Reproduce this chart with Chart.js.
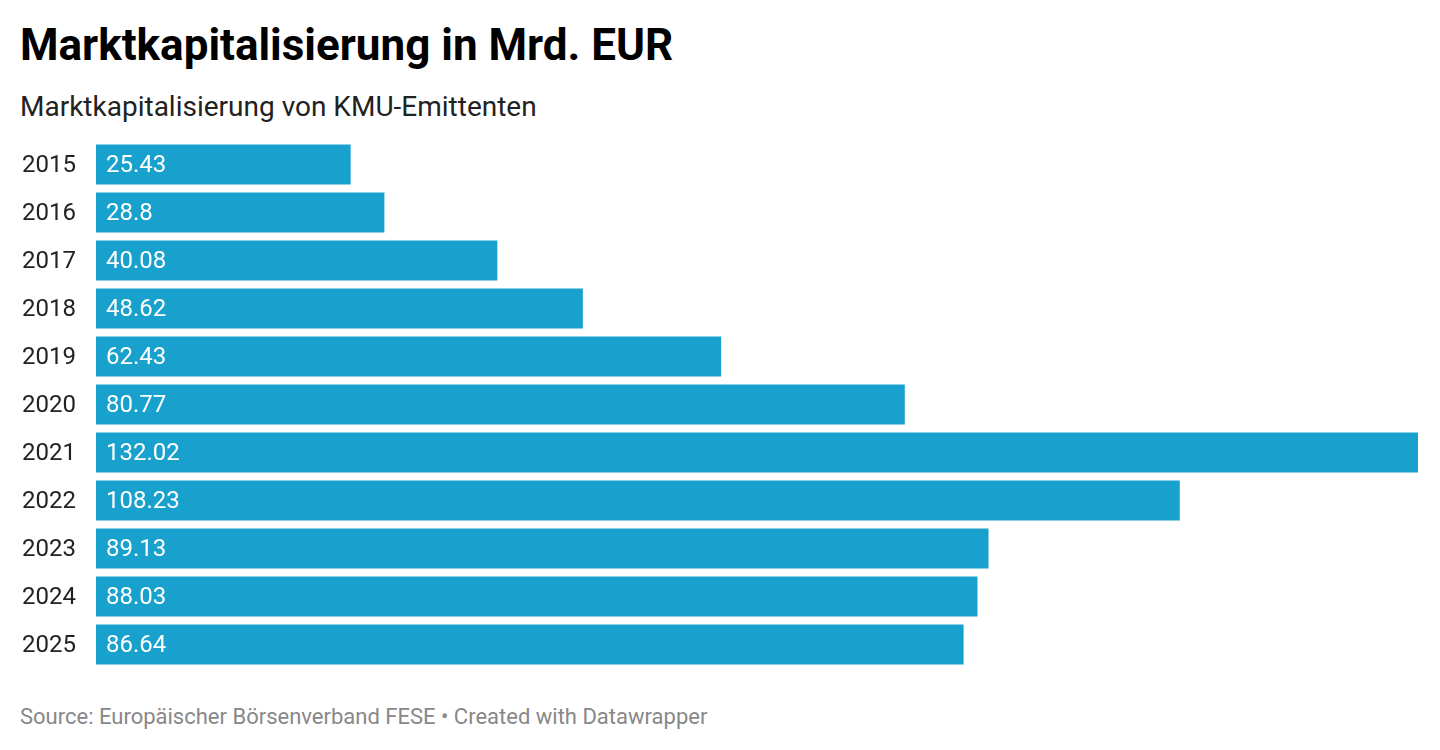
<!DOCTYPE html>
<html>
<head>
<meta charset="utf-8">
<script src="https://cdn.jsdelivr.net/npm/chart.js@4"></script>
<style>
  body { margin: 0; background: #fff; font-family: Roboto, sans-serif; }
  #title { position: absolute; left: 20px; top: 19px; font-size: 44px; font-weight: 700; color: #000; margin: 0; line-height: 52px; }
  #subtitle { position: absolute; left: 20px; top: 90px; font-size: 28px; color: #222; line-height: 34px; }
  #wrap { position: absolute; left: 0; top: 125.6px; width: 1440px; height: 556.8px; }
  #source { position: absolute; left: 20px; top: 703px; font-size: 22px; color: #888; line-height: 28px; }
</style>
</head>
<body>
<div id="title">Marktkapitalisierung in Mrd. EUR</div>
<div id="subtitle">Marktkapitalisierung von KMU-Emittenten</div>
<div id="wrap"><canvas id="js--chart"></canvas></div>
<div id="source">Source: Europäischer Börsenverband FESE • Created with Datawrapper</div>
<script>
const years = ["2015", "2016", "2017", "2018", "2019", "2020", "2021", "2022", "2023", "2024", "2025"];
const values = [25.43, 28.8, 40.08, 48.62, 62.43, 80.77, 132.02, 108.23, 89.13, 88.03, 86.64];
const valueLabels = ["25.43", "28.8", "40.08", "48.62", "62.43", "80.77", "132.02", "108.23", "89.13", "88.03", "86.64"];

// writes the value inside each bar, near its start
const barText = {
  id: "barText",
  afterDatasetsDraw(chart) {
    const ctx = chart.ctx;
    const meta = chart.getDatasetMeta(0);
    ctx.save();
    ctx.fillStyle = "#fff";
    ctx.font = "24px Roboto";
    ctx.textBaseline = "middle";
    ctx.textAlign = "left";
    meta.data.forEach(function(bar, i) {
      ctx.fillText(valueLabels[i], bar.base + 10, bar.y + 2);
    });
    ctx.restore();
  }
};

const config = {
  type: "bar",
  data: {
    labels: years,
    datasets: [{
      data: values,
      backgroundColor: "#18a1cd",
      categoryPercentage: 1,
      barPercentage: 40 / 48
    }]
  },
  options: {
    indexAxis: "y",
    responsive: true,
    maintainAspectRatio: false,
    animation: false,
    layout: { padding: { left: 22, right: 22, top: 0, bottom: 0 } },
    plugins: { legend: { display: false }, tooltip: { enabled: false } },
    scales: {
      x: { display: false, min: 0, max: 132.02 },
      y: {
        grid: { display: false },
        border: { display: false },
        ticks: { color: "#222", font: { family: "Roboto", size: 24 }, padding: 0, crossAlign: "far", labelOffset: 2 },
        afterFit: function(scale) { scale.width = 74; }
      }
    }
  },
  plugins: [barText]
};

new Chart(document.getElementById("js--chart"), config);
</script>
</body>
</html>
